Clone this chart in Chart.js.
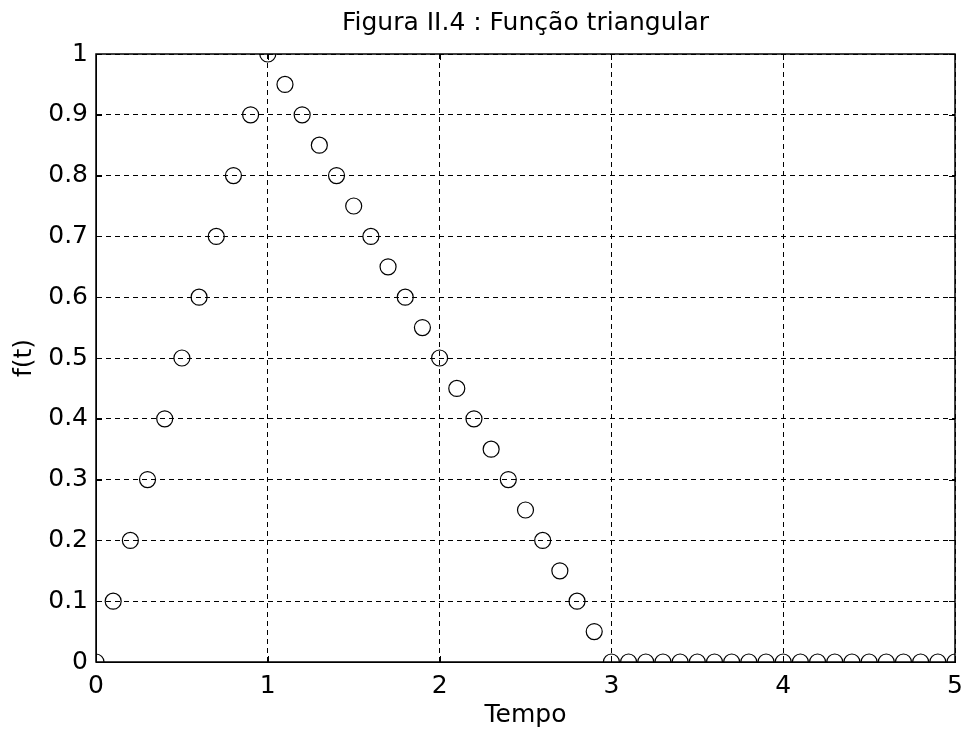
<!DOCTYPE html>
<html>
<head>
<meta charset="utf-8">
<script src="https://cdn.jsdelivr.net/npm/chart.js@4/dist/chart.umd.min.js"></script>
<style>
  html, body { margin: 0; padding: 0; background: #ffffff; }
  #wrap { width: 968px; height: 738px; }
</style>
</head>
<body>
<div id="wrap"><canvas id="grafico" width="968" height="738"></canvas></div>
<script>
// Amostras da função triangular (passo 0.1)
const tempo = [
  0.0, 0.1, 0.2, 0.3, 0.4, 0.5, 0.6, 0.7, 0.8, 0.9,
  1.0, 1.1, 1.2, 1.3, 1.4, 1.5, 1.6, 1.7, 1.8, 1.9,
  2.0, 2.1, 2.2, 2.3, 2.4, 2.5, 2.6, 2.7, 2.8, 2.9,
  3.0, 3.1, 3.2, 3.3, 3.4, 3.5, 3.6, 3.7, 3.8, 3.9,
  4.0, 4.1, 4.2, 4.3, 4.4, 4.5, 4.6, 4.7, 4.8, 4.9,
  5.0
];
const valores = [
  0, 0.1, 0.2, 0.3, 0.4, 0.5, 0.6, 0.7, 0.8, 0.9,
  1, 0.95, 0.9, 0.85, 0.8, 0.75, 0.7, 0.65, 0.6, 0.55,
  0.5, 0.45, 0.4, 0.35, 0.3, 0.25, 0.2, 0.15, 0.1, 0.05,
  0, 0, 0, 0, 0, 0, 0, 0, 0, 0,
  0, 0, 0, 0, 0, 0, 0, 0, 0, 0,
  0
];
const xTicks = [0, 1, 2, 3, 4, 5];
const xTickLabels = ['0', '1', '2', '3', '4', '5'];
const yTicks = [0, 0.1, 0.2, 0.3, 0.4, 0.5, 0.6, 0.7, 0.8, 0.9, 1];
const yTickLabels = ['0', '0.1', '0.2', '0.3', '0.4', '0.5', '0.6', '0.7', '0.8', '0.9', '1'];
const titulo = 'Figura II.4 : Função triangular';
const rotuloX = 'Tempo';
const rotuloY = 'f(t)';

const fonte = { family: '"DejaVu Sans", sans-serif', size: 25, weight: 'normal' };

// Caixa sólida em volta dos eixos e marcas de escala voltadas para dentro
const caixaEixos = {
  id: 'caixaEixos',
  afterDraw(chart) {
    const { ctx, chartArea: a, scales } = chart;
    const L = 6;
    ctx.save();
    ctx.strokeStyle = '#000';
    ctx.lineWidth = 1.5;
    ctx.setLineDash([]);
    ctx.strokeRect(a.left, a.top, a.right - a.left, a.bottom - a.top);
    ctx.lineWidth = 1;
    ctx.beginPath();
    xTicks.forEach(v => {
      const px = Math.round(scales.x.getPixelForValue(v)) + 0.5;
      ctx.moveTo(px, a.bottom); ctx.lineTo(px, a.bottom - L);
      ctx.moveTo(px, a.top); ctx.lineTo(px, a.top + L);
    });
    yTicks.forEach(v => {
      const py = Math.round(scales.y.getPixelForValue(v)) + 0.5;
      ctx.moveTo(a.left, py); ctx.lineTo(a.left + L, py);
      ctx.moveTo(a.right, py); ctx.lineTo(a.right - L, py);
    });
    ctx.stroke();
    ctx.restore();
  }
};

new Chart(document.getElementById('grafico'), {
  type: 'scatter',
  data: {
    datasets: [{
      data: tempo.map((t, i) => ({ x: t, y: valores[i] })),
      showLine: false,
      pointStyle: 'circle',
      pointRadius: 8,
      pointHoverRadius: 8,
      pointBackgroundColor: 'rgba(0,0,0,0)',
      pointBorderColor: '#000',
      pointBorderWidth: 1.2,
      clip: 0
    }]
  },
  options: {
    responsive: false,
    animation: false,
    events: [],
    layout: { padding: { left: 0, right: 13, top: 0, bottom: 0 } },
    plugins: {
      legend: { display: false },
      tooltip: { enabled: false },
      title: {
        display: true,
        fullSize: false,
        text: titulo,
        color: '#000',
        font: fonte,
        padding: { top: 8, bottom: 16 }
      }
    },
    scales: {
      x: {
        type: 'linear',
        min: 0,
        max: 5,
        afterBuildTicks: s => { s.ticks = xTicks.map(v => ({ value: v })); },
        afterFit: s => { s.height = 76; s.paddingLeft = 0; s.paddingRight = 0; },
        ticks: {
          color: '#000',
          font: fonte,
          padding: 9,
          maxRotation: 0,
          autoSkip: false,
          callback: (v, i) => xTickLabels[i]
        },
        grid: { color: '#000', lineWidth: 1, drawTicks: false },
        border: { display: true, color: '#000', width: 1, dash: [5, 4] },
        title: {
          display: true,
          text: rotuloX,
          color: '#000',
          font: fonte,
          padding: { top: 0, bottom: 8 }
        }
      },
      y: {
        type: 'linear',
        min: 0,
        max: 1,
        afterBuildTicks: s => { s.ticks = yTicks.map(v => ({ value: v })); },
        afterFit: s => { s.width = 96; s.paddingTop = 0; s.paddingBottom = 0; },
        ticks: {
          color: '#000',
          font: fonte,
          padding: 8,
          autoSkip: false,
          callback: (v, i) => yTickLabels[i]
        },
        grid: { color: '#000', lineWidth: 1, drawTicks: false },
        border: { display: true, color: '#000', width: 1, dash: [5, 4] },
        title: {
          display: true,
          text: rotuloY,
          color: '#000',
          font: fonte,
          padding: { top: 9, bottom: 0 }
        }
      }
    }
  },
  plugins: [caixaEixos]
});
</script>
</body>
</html>
